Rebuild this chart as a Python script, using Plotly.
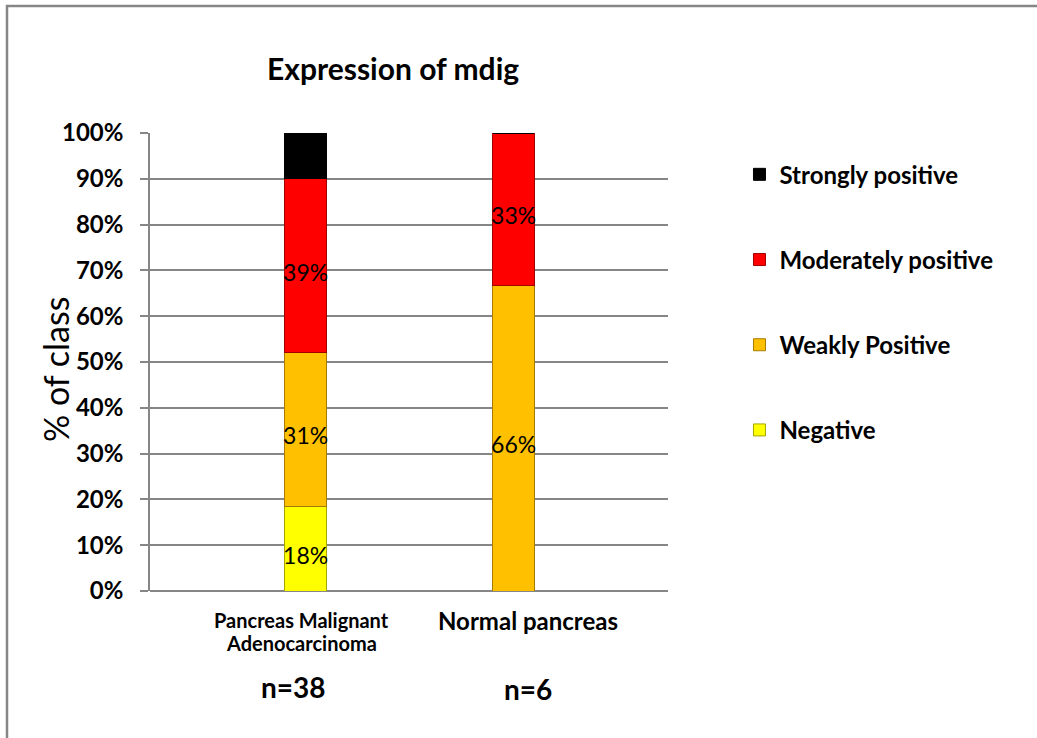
import plotly.graph_objects as go

categories = ["Pancreas Malignant<br>Adenocarcinoma", "Normal pancreas"]
n_labels = ["n=38", "n=6"]
series_names = ["Negative", "Weakly Positive", "Moderately positive", "Strongly positive"]
negative = [18.5, 0]
weakly = [33.5, 66.7]
moderately = [38.0, 33.3]
strongly = [10.0, 0]
negative_txt = ["18%", ""]
weakly_txt = ["31%", "66%"]
moderately_txt = ["39%", "33%"]
strongly_txt = ["", ""]
y_ticks = [0, 10, 20, 30, 40, 50, 60, 70, 80, 90, 100]

colors = ["#FFFF00", "#FFC000", "#FF0000", "#000000"]
edge = ["#A6A600", "#A67C00", "#A00000", "#000000"]
FONT = "Lato, 'Open Sans', sans-serif"

fig = go.Figure()
series = [negative, weakly, moderately, strongly]
texts = [negative_txt, weakly_txt, moderately_txt, strongly_txt]
for i, (name, vals) in enumerate(zip(series_names, series)):
    fig.add_trace(go.Bar(
        x=[0, 1], y=vals, name=name,
        marker=dict(color=colors[i], line=dict(color=edge[i], width=1)),
        width=0.2, legendgroup=name, legendrank=4 - i, hoverinfo="skip",
    ))

# segment labels, centred on each stacked segment
base = [0.0, 0.0]
lx, ly, lt = [], [], []
for vals, txt in zip(series, texts):
    for j in range(2):
        if txt[j]:
            lx.append(j)
            ly.append(base[j] + vals[j] / 2 - 2.0)
            lt.append(txt[j])
        base[j] += vals[j]
fig.add_trace(go.Scatter(
    x=lx, y=ly, text=lt, mode="text", showlegend=False, hoverinfo="skip",
    textfont=dict(family=FONT, size=23, color="#000000"), cliponaxis=False,
))

fig.update_layout(
    barmode="stack",
    width=1037, height=738,
    margin=dict(l=150, r=369, t=133, b=147),
    paper_bgcolor="white", plot_bgcolor="white",
    font=dict(family=FONT, color="#000000"),
    showlegend=True,
    legend=dict(
        x=1.138, y=0.958, xanchor="left", yanchor="top",
        traceorder="grouped", tracegroupgap=51,
        font=dict(family=FONT, size=24, color="#000000", weight="bold"),
        bgcolor="rgba(0,0,0,0)", itemclick=False, itemdoubleclick=False,
    ),
    xaxis=dict(
        range=[-0.748, 1.742], showticklabels=False, showgrid=False,
        zeroline=False, showline=False, fixedrange=True,
    ),
    yaxis=dict(
        range=[0, 100], tickvals=y_ticks, ticktext=[f"{v}%" for v in y_ticks],
        ticks="outside", ticklen=8, tickcolor="#868686", tickwidth=1.5,
        ticklabelstandoff=12,
        showgrid=True, gridcolor="#868686", gridwidth=1.5,
        showline=True, linecolor="#868686", linewidth=1.5,
        zeroline=True, zerolinecolor="#868686", zerolinewidth=1.5,
        tickfont=dict(family=FONT, size=24, color="#000000", weight="bold"),
        fixedrange=True,
    ),
)

# y-axis title
fig.add_annotation(text="% of class", xref="paper", yref="paper",
                   x=(55 - 150) / 518, y=(591 - 370) / 458, textangle=-90,
                   xanchor="center", yanchor="middle", showarrow=False,
                   font=dict(family=FONT, size=34, color="#000000"))

# outer chart frame
fig.add_shape(type="rect", xref="paper", yref="paper",
              x0=(7 - 150) / 518, x1=2.0, y0=-1.0, y1=(591 - 6) / 458,
              line=dict(color="#868686", width=2.5), fillcolor="rgba(0,0,0,0)", layer="below")

# title
fig.add_annotation(text="<b>Expression of mdig</b>", xref="paper", yref="paper",
                   x=(393 - 150) / 518, y=(591 - 68) / 458, yanchor="middle", xanchor="center",
                   showarrow=False, font=dict(family=FONT, size=30, color="#000000"))

# category labels and n labels
cat_sizes = [20, 24]
cat_shift = [-4, 14]
cat_y = [[620, 643], [620]]
for i, (c, n) in enumerate(zip(categories, n_labels)):
    for line, yy in zip(c.split("<br>"), cat_y[i]):
        fig.add_annotation(text=f"<b>{line}</b>", x=i, xref="x", yref="paper", y=0,
                           yanchor="middle", yshift=-(yy - 591), xshift=cat_shift[i], showarrow=False,
                           font=dict(family=FONT, size=cat_sizes[i], color="#000000"))
    fig.add_annotation(text=f"<b>{n}</b>", x=i, xref="x", yref="paper", y=0,
                       yanchor="middle", yshift=-(687 - 591) if i == 0 else -(689 - 591),
                       xshift=[-12, 14][i], showarrow=False,
                       font=dict(family=FONT, size=28, color="#000000"))

fig.write_html("out.html")
